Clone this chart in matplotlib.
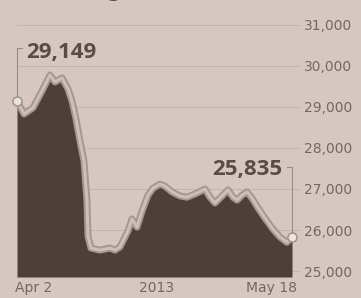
import matplotlib
matplotlib.use("Agg")
import matplotlib.pyplot as plt
import matplotlib.transforms as mtransforms

# ---- data ----
t = [0, 7, 16, 26, 33, 38, 45, 51, 55, 59, 63, 67, 70, 71, 74, 83, 93, 98, 103,
     111, 115, 120, 125, 131, 136, 143, 148, 155, 163, 170, 178, 188, 193, 198,
     205, 211, 216, 220, 225, 230, 235, 241, 248, 256, 263, 270, 275]
values = [29149, 28830, 28980, 29440, 29780, 29610, 29710, 29440, 29150, 28710,
          28170, 27680, 26710, 25850, 25560, 25510, 25560, 25510, 25590,
          25980, 26270, 26070, 26460, 26850, 27020, 27120, 27070, 26930, 26830,
          26800, 26880, 27000, 26800, 26660, 26830, 26980, 26800, 26730, 26850,
          26930, 26780, 26540, 26290, 26020, 25830, 25700, 25835]
y_ticks = [25000, 26000, 27000, 28000, 29000, 30000, 31000]
y_tick_labels = ["25,000", "26,000", "27,000", "28,000", "29,000", "30,000", "31,000"]
x_ticks = [0, 140, 275]
x_tick_labels = ["Apr 2", "2013", "May 18"]
start_label = "29,149"
end_label = "25,835"

BG = "#d6c7c0"
DARK = "#4d403a"
TICK = "#76675f"
ANN = "#5a4c46"

W, H = 361, 298
fig = plt.figure(figsize=(W / 100, H / 100), dpi=100, facecolor=BG)
ax = fig.add_axes([17 / W, 1 - 277 / H, (300 - 17) / W, (277 - 18) / H])
ax.set_facecolor(BG)

ymin, ymax = 24854, 31170
ax.set_ylim(ymin, ymax)
ax.set_xlim(0, 283)

for s in ax.spines.values():
    s.set_visible(False)

ax.yaxis.tick_right()
ax.set_yticks(y_ticks)
ax.set_yticklabels(y_tick_labels, fontsize=10, color=TICK, family="DejaVu Sans")
ax.tick_params(axis="y", length=0, pad=3)
ax.grid(axis="y", color="#c6b5ad", lw=0.8, zorder=0)

ax.set_xticks(x_ticks)
ax.set_xticklabels(x_tick_labels, fontsize=10, color=TICK, family="DejaVu Sans")
ax.tick_params(axis="x", length=0, pad=3)
lbls = ax.get_xticklabels()
lbls[0].set_ha("left")
lbls[0].set_transform(lbls[0].get_transform() + mtransforms.ScaledTranslation(-2 / 100, 0, fig.dpi_scale_trans))
lbls[2].set_ha("right")
lbls[2].set_transform(lbls[2].get_transform() + mtransforms.ScaledTranslation(5 / 100, 0, fig.dpi_scale_trans))

ax.fill_between(t, values, ymin, color=DARK, lw=0, zorder=2)
ax.plot(t, values, color="#a6978f", lw=5.0, solid_joinstyle="round", zorder=3)
ax.plot(t, values, color="#cdc0b9", lw=2.2, solid_joinstyle="round", zorder=4)

# leader lines + labels
x0, v0 = t[0], values[0]
x1, v1 = t[-1], values[-1]
ax.plot([x0, x0, x0 + 5], [v0, 30440, 30440], color="#9c8c84", lw=0.8, zorder=5, clip_on=False)
ax.plot([x1, x1, x1 - 5], [v1, 27540, 27540], color="#9c8c84", lw=0.8, zorder=5, clip_on=False)
ax.plot([x0, x1], [v0, v1], ls="none", marker="o", ms=6.5, mfc="#ebe3de",
        mec="#9c8c84", mew=1.0, zorder=6, clip_on=False)
ax.text(x0 + 9, 30195, start_label, fontsize=16, fontweight="bold", color=ANN,
        family="Open Sans", ha="left", va="baseline", zorder=7)
ax.text(x1 - 10, 27340, end_label, fontsize=16, fontweight="bold", color=ANN,
        family="Open Sans", ha="right", va="baseline", zorder=7)

# fragment of headline cut at top edge (as in the reference)
fig.text(106 / W, 1.0 + 3 / H, "g", fontsize=15, fontweight="bold", color="#5a4c46",
         ha="left", va="baseline")

fig.savefig("out.png", dpi=100, facecolor=BG)
